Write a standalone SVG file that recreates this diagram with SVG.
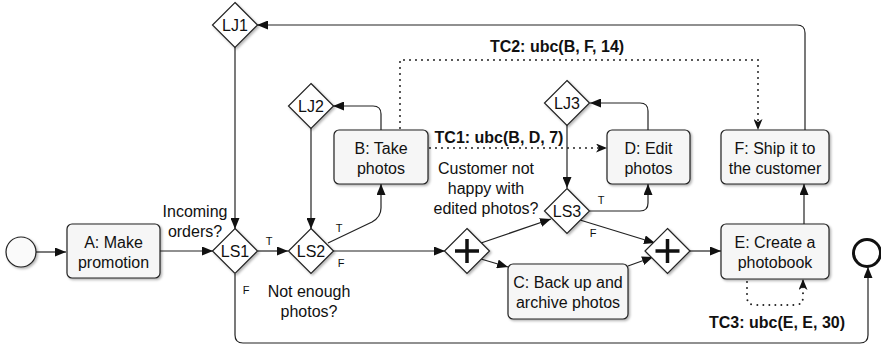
<svg xmlns="http://www.w3.org/2000/svg" width="881" height="350" viewBox="0 0 881 350">
<style>
  .box { fill: #f6f6f6; stroke: #222; stroke-width: 1.2; filter: url(#sh); }
  .gw { fill: #ffffff; stroke: #222; stroke-width: 1.2; filter: url(#sh); }
  .t { font-family: "Liberation Sans", Arial, sans-serif; font-size: 16px; fill: #111; text-anchor: middle; }
  .b { font-family: "Liberation Sans", Arial, sans-serif; font-size: 16px; font-weight: bold; fill: #111; text-anchor: middle; }
  .s { font-family: "Liberation Sans", Arial, sans-serif; font-size: 11px; fill: #111; text-anchor: middle; }
  .e { fill: none; stroke: #222; stroke-width: 1.2; marker-end: url(#arr); }
  .d { fill: none; stroke: #222; stroke-width: 2; stroke-dasharray: 0 6; stroke-linecap: round; marker-end: url(#open); }
  .plus { stroke: #111; stroke-width: 3.5; fill: none; }
</style>
<defs>
  <filter id="sh" x="-20%" y="-20%" width="140%" height="140%">
    <feDropShadow dx="1.5" dy="1.5" stdDeviation="1" flood-color="#000" flood-opacity="0.3"/>
  </filter>
  <marker id="arr" markerUnits="userSpaceOnUse" markerWidth="11" markerHeight="9" refX="11" refY="4.5" orient="auto">
    <path d="M0,0 L11,4.5 L0,9 z" fill="#111"/>
  </marker>
  <marker id="open" markerUnits="userSpaceOnUse" markerWidth="11" markerHeight="9" refX="11" refY="4.5" orient="auto">
    <path d="M0,0 L11,4.5 L0,9 L3,4.5 z" fill="#111"/>
  </marker>
</defs>
<rect width="881" height="350" fill="#ffffff"/>

<g id="connectors">
  <path class="e" d="M36,252 H66"/>
  <path class="e" d="M160,251 H213"/>
  <path class="e" d="M258,251 H288"/>
  <path class="e" d="M333,251 H445"/>
  <path class="e" d="M235,47 V229"/>
  <path class="e" d="M311,128 V229"/>
  <path class="e" d="M328,243 L372,222 Q381,217 381,208 V184"/>
  <path class="e" d="M381,130 V114 Q381,106 373,106 H333"/>
  <path class="e" d="M481,243 L551,219"/>
  <path class="e" d="M481,259 L508,267"/>
  <path class="e" d="M628,266 L653,257"/>
  <path class="e" d="M580,220 L655,243"/>
  <path class="e" d="M590,211 H640 Q648,211 648,203 V184"/>
  <path class="e" d="M648,130 V111 Q648,103 640,103 H590"/>
  <path class="e" d="M567,125 V188"/>
  <path class="e" d="M690,251 H721"/>
  <path class="e" d="M804,224 V184"/>
  <path class="e" d="M805,130 V33 Q805,25 797,25 H257"/>
  <path class="e" d="M235,274 V335 Q235,343 243,343 H860 Q868,343 868,335 V267"/>
  <path class="d" d="M430,148 H607"/>
  <path class="d" d="M400,128 V60 H758 V130"/>
  <path class="d" d="M747,282 V297 Q747,305 755,305 H795 Q803,305 803,297 V279"/>
  <text class="s" x="269" y="245">T</text>
  <text class="s" x="246" y="294">F</text>
  <text class="s" x="339" y="232">T</text>
  <text class="s" x="341" y="267">F</text>
  <text class="s" x="601" y="204">T</text>
  <text class="s" x="593" y="237">F</text>
  <text class="b" x="557" y="52">TC2: ubc(B, F, 14)</text>
  <text class="b" x="499" y="143">TC1: ubc(B, D, 7)</text>
  <text class="b" x="777" y="328">TC3: ubc(E, E, 30)</text>
</g>

<g id="start"><circle cx="21" cy="252" r="15" fill="#fafafa" stroke="#222" stroke-width="1.2" filter="url(#sh)"/></g>
<g id="end"><circle cx="867" cy="253" r="13.5" fill="#ffffff" stroke="#111" stroke-width="3"/></g>

<g id="A"><rect class="box" x="67" y="224" width="93" height="54" rx="5"/>
  <text class="t" x="113.5" y="248">A: Make</text><text class="t" x="113.5" y="268">promotion</text></g>
<g id="B"><rect class="box" x="334" y="130" width="94" height="54" rx="5"/>
  <text class="t" x="381" y="154">B: Take</text><text class="t" x="381" y="174">photos</text></g>
<g id="C"><rect class="box" x="508" y="264" width="120" height="55" rx="5"/>
  <text class="t" x="568" y="288">C: Back up and</text><text class="t" x="568" y="308">archive photos</text></g>
<g id="D"><rect class="box" x="607" y="130" width="83" height="54" rx="5"/>
  <text class="t" x="648.5" y="154">D: Edit</text><text class="t" x="648.5" y="174">photos</text></g>
<g id="E"><rect class="box" x="721" y="224" width="108" height="55" rx="5"/>
  <text class="t" x="775" y="248">E: Create a</text><text class="t" x="775" y="268">photobook</text></g>
<g id="F"><rect class="box" x="721" y="130" width="108" height="54" rx="5"/>
  <text class="t" x="775" y="154">F: Ship it to</text><text class="t" x="775" y="174">the customer</text></g>

<g id="LS1"><polygon class="gw" points="235,228.5 257.5,251 235,273.5 212.5,251"/><text class="t" x="235" y="257">LS1</text>
  <text class="t" x="195" y="217">Incoming</text><text class="t" x="195" y="237">orders?</text></g>
<g id="LS2"><polygon class="gw" points="311,228.5 333.5,251 311,273.5 288.5,251"/><text class="t" x="311" y="257">LS2</text>
  <text class="t" x="309" y="297">Not enough</text><text class="t" x="309" y="317">photos?</text></g>
<g id="LS3"><polygon class="gw" points="567,188.5 589.5,211 567,233.5 544.5,211"/><text class="t" x="567" y="217">LS3</text>
  <text class="t" x="486" y="174">Customer not</text><text class="t" x="486" y="194">happy with</text><text class="t" x="486" y="214">edited photos?</text></g>
<g id="LJ1"><polygon class="gw" points="235,2.5 257.5,25 235,47.5 212.5,25"/><text class="t" x="235" y="31">LJ1</text></g>
<g id="LJ2"><polygon class="gw" points="311,83.5 333.5,106 311,128.5 288.5,106"/><text class="t" x="311" y="112">LJ2</text></g>
<g id="LJ3"><polygon class="gw" points="567,80.5 589.5,103 567,125.5 544.5,103"/><text class="t" x="567" y="109">LJ3</text></g>
<g id="P1"><polygon class="gw" points="467,228.5 489.5,251 467,273.5 444.5,251"/><path class="plus" d="M455,251 H479 M467,239 V263"/></g>
<g id="P2"><polygon class="gw" points="667.5,228.5 690,251 667.5,273.5 645,251"/><path class="plus" d="M655.5,251 H679.5 M667.5,239 V263"/></g>
</svg>
